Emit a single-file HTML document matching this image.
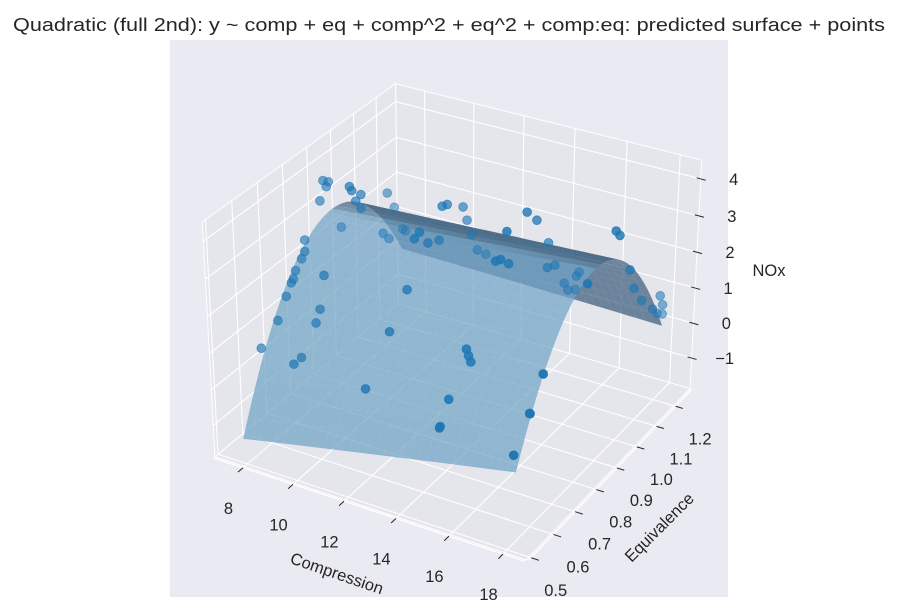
<!DOCTYPE html>
<html><head><meta charset="utf-8"><style>
html,body{margin:0;padding:0;background:#fff;}
svg{display:block;font-family:"Liberation Sans",Arial,sans-serif;}
</style></head><body>
<svg id="chart" width="898" height="616" viewBox="0 0 898 616" xmlns="http://www.w3.org/2000/svg">
<rect x="0" y="0" width="898" height="616" fill="#ffffff"/>
<rect x="170" y="40" width="558" height="557" fill="#eaeaf2"/>
<text x="449" y="31" text-anchor="middle" font-size="18" fill="#262626" textLength="872" lengthAdjust="spacingAndGlyphs">Quadratic (full 2nd): y ~ comp + eq + comp^2 + eq^2 + comp:eq: predicted surface + points</text>
<g id="panes"></g>
<g id="grid"></g>
<g id="axislines"></g>
<g id="surface"></g>
<g id="points"></g>
<g id="ticks"></g>
<text x="337" y="579" text-anchor="middle" font-size="16.5" fill="#262626" transform="rotate(19 337 573)">Compression</text>
<text x="659" y="533" text-anchor="middle" font-size="16.5" fill="#262626" transform="rotate(-45 659 527)">Equivalence</text>
<text x="769" y="276" text-anchor="middle" font-size="16.5" fill="#262626">NOx</text>
</svg>
<script>
// ---- data ----
const comp = [7.5,7.5,7.5,7.5,9,9,9,9,9,9,9,7.5,9,9,9,9,12,12,12,12,12,12,12,12,12,12,12,15,15,15,15,15,15,15,15,15,15,15,15,15,15,18,18,18,18,18,18,18,18,18,18,18,7.5,7.5,7.5,7.5,7.5,7.5,7.5,9,7.5,9,9,7.5,9,9,12,12,12,15,15,15,15,15,15,18,18,18,18];
const eq = [0.892,0.914,0.905,0.877,0.846,0.855,0.893,1.006,0.871,0.892,1.036,0.964,0.985,1.010,1.072,1.085,0.814,0.792,0.850,0.899,0.913,0.935,1.006,1.024,1.045,1.072,1.112,0.799,0.821,0.858,0.848,0.939,0.985,1.042,1.039,1.075,1.123,1.142,1.179,1.183,1.197,0.846,0.976,0.995,1.052,1.076,1.117,1.177,1.202,1.230,1.215,1.230,0.810,0.809,0.795,0.769,0.759,0.750,0.728,0.733,0.691,0.713,0.695,0.621,0.632,0.601,0.759,0.683,0.580,0.673,0.682,0.692,0.597,0.557,0.560,0.650,0.592,0.594,0.524];
const nox = [3.77,3.63,3.54,3.29,4.10,3.95,3.66,3.16,3.59,3.30,2.62,2.14,2.15,1.88,1.84,1.72,3.61,3.54,3.14,2.97,3.81,3.75,3.34,2.89,2.39,1.83,1.51,3.50,3.43,3.13,4.03,4.09,3.65,2.76,2.10,1.98,1.23,0.94,0.76,1.12,1.16,3.26,3.98,3.77,2.56,1.94,1.39,0.83,0.58,0.41,1.00,0.67,2.55,2.24,2.11,1.92,1.74,1.68,1.42,2.27,0.95,1.45,1.17,0.56,0.56,0.55,2.35,1.62,0.64,1.84,1.61,1.39,0.92,0.38,0.40,1.95,1.24,1.22,0.53];
// fitted coefficients: intercept, comp, eq, comp^2, eq^2, comp:eq
const coef = [-23.453, 0.2721, 54.069, -0.000432, -28.3, -0.2210];
const surfComp = [7.5, 18];
const surfEq = [0.535, 1.232];
const xTicks = [8,10,12,14,16,18];
const yTicks = [0.5,0.6,0.7,0.8,0.9,1.0,1.1,1.2];
const zTicks = [-1,0,1,2,3,4];
const xTickLabels = ["8","10","12","14","16","18"];
const yTickLabels = ["0.5","0.6","0.7","0.8","0.9","1.0","1.1","1.2"];
const zTickLabels = ["\u22121","0","1","2","3","4"];

// ---- axes / projection ----
const X0=6.8,X1=18.8,Y0=0.488,Y1=1.288,Z0=-1.89,Z1=4.5;
function proj(c,e,z){
  const qx=4*(c-X0)/(X1-X0)-2, qy=4*(e-Y0)/(Y1-Y0)-2, qz=3*(z-Z0)/(Z1-Z0)-1.5;
  const X=0.866025*qx+0.5*qy;
  const Y=-0.25*qx+0.433013*qy+0.866025*qz;
  const wq=0.433013*qx-0.75*qy+0.5*qz;
  const D=30-wq;
  return [457.4+2672*X/D, 309-2672*Y/D, D];
}
function model(c,e){return coef[0]+coef[1]*c+coef[2]*e+coef[3]*c*c+coef[4]*e*e+coef[5]*c*e;}
const NS="http://www.w3.org/2000/svg";
function mk(tag,attrs,parent){const el=document.createElementNS(NS,tag);for(const k in attrs)el.setAttribute(k,attrs[k]);parent.appendChild(el);return el;}
function pts(arr){return arr.map(p=>p[0].toFixed(2)+","+p[1].toFixed(2)).join(" ");}

// panes
const panes=document.getElementById('panes');
const paneDefs=[
  ['floor-pane',[[X0,Y0,Z0],[X1,Y0,Z0],[X1,Y1,Z0],[X0,Y1,Z0]]],
  ['back-pane',[[X0,Y1,Z0],[X1,Y1,Z0],[X1,Y1,Z1],[X0,Y1,Z1]]],
  ['left-pane',[[X0,Y0,Z0],[X0,Y1,Z0],[X0,Y1,Z1],[X0,Y0,Z1]]]
];
paneDefs.forEach(pd=>{
  const p=mk('polygon',{points:pts(pd[1].map(v=>proj(v[0],v[1],v[2]))),fill:'#e5e5ec',stroke:'#ffffff','stroke-width':'1'},panes);
  
  
});
// grid
const grid=document.getElementById('grid');
function gl(a,b,name){
  const p=proj(a[0],a[1],a[2]),q=proj(b[0],b[1],b[2]);
  const l=mk('line',{x1:p[0],y1:p[1],x2:q[0],y2:q[1],stroke:'#ffffff','stroke-width':'1.1'},grid);
  
  
}
xTicks.forEach(t=>{gl([t,Y0,Z0],[t,Y1,Z0],'x-gridline');gl([t,Y1,Z0],[t,Y1,Z1],'x-gridline');});
yTicks.forEach(t=>{gl([X0,t,Z0],[X1,t,Z0],'y-gridline');gl([X0,t,Z0],[X0,t,Z1],'y-gridline');});
zTicks.forEach(t=>{gl([X0,Y1,t],[X1,Y1,t],'z-gridline');gl([X0,Y0,t],[X0,Y1,t],'z-gridline');});
const axl=document.getElementById('axislines');
function al(a,b,name){
  const p=proj(a[0],a[1],a[2]),q=proj(b[0],b[1],b[2]);
  const l=mk('line',{x1:p[0],y1:p[1],x2:q[0],y2:q[1],stroke:'#ffffff','stroke-width':'1.3'},axl);
  
  
}
al([X0,Y0-0.006,Z0],[X1,Y0-0.006,Z0],'x-axis-line');
al([X1+0.08,Y0,Z0],[X1+0.08,Y1,Z0],'y-axis-line');

// surface
const surf=document.getElementById('surface');
const N=32;
const quads=[];
for(let i=0;i<N;i++)for(let j=0;j<N;j++){
  const c0=surfComp[0]+(surfComp[1]-surfComp[0])*i/N, c1=surfComp[0]+(surfComp[1]-surfComp[0])*(i+1)/N;
  const e0=surfEq[0]+(surfEq[1]-surfEq[0])*j/N, e1=surfEq[0]+(surfEq[1]-surfEq[0])*(j+1)/N;
  const v=[[c0,e0],[c1,e0],[c1,e1],[c0,e1]].map(a=>[a[0],a[1],model(a[0],a[1])]);
  const P=v.map(a=>proj(a[0],a[1],a[2]));
  const depth=(P[0][2]+P[1][2]+P[2][2]+P[3][2])/4;
  const d1=[v[2][0]-v[0][0],v[2][1]-v[0][1],v[2][2]-v[0][2]];
  const d2=[v[3][0]-v[1][0],v[3][1]-v[1][1],v[3][2]-v[1][2]];
  let n=[d1[1]*d2[2]-d1[2]*d2[1], d1[2]*d2[0]-d1[0]*d2[2], d1[0]*d2[1]-d1[1]*d2[0]];
  if(n[2]<0)n=n.map(x=>-x);
  const nl=Math.hypot(n[0],n[1],n[2]);
  const dot=(-0.6667*n[0]-0.6667*n[1]+0.3333*n[2])/nl;
  let t=((dot+1)/2-0.17)/0.66; t=Math.max(0,Math.min(1.05,t));
  const col=[58+52*t,92+69*t,122+73*t].map(x=>Math.round(Math.min(255,x)));
  quads.push({P,depth,col});
}
quads.sort((a,b)=>b.depth-a.depth);
quads.forEach(q=>{
  const p=mk('polygon',{points:pts(q.P),fill:'rgb('+q.col.join(',')+')','fill-opacity':'0.72'},surf);
  
  
});

// points
const pg=document.getElementById('points');
const proj3=comp.map((c,i)=>proj(c,eq[i],nox[i]));
const ds=proj3.map(p=>p[2]);
const dmin=Math.min(...ds),dmax=Math.max(...ds);
const order=proj3.map((p,i)=>i).sort((a,b)=>proj3[b][2]-proj3[a][2]);
order.forEach(i=>{
  const p=proj3[i];
  const a=1-0.55*(p[2]-dmin)/(dmax-dmin);
  const c=mk('circle',{cx:p[0].toFixed(2),cy:p[1].toFixed(2),r:'4.4',fill:'#1f77b4','fill-opacity':a.toFixed(3),stroke:'#1f77b4','stroke-opacity':a.toFixed(3),'stroke-width':'0.8'},pg);
  
  
});

// ticks
const tg=document.getElementById('ticks');
function tline(p,q,name){
  const l=mk('line',{x1:p[0],y1:p[1],x2:q[0],y2:q[1],stroke:'#262626','stroke-width':'1'},tg);
  
  
}
function tlabel(x,y,s,name){
  const t=mk('text',{x:x.toFixed(1),y:(y+6).toFixed(1),'text-anchor':'middle','font-size':'16.5',fill:'#262626'},tg);
  t.textContent=s;
  
  
}
xTicks.forEach((t,i)=>{
  const a=proj(t,Y0-0.006,Z0),b=proj(t,Y0-0.026,Z0);
  tline(a,b,'x-tick');
  tlabel(a[0]-14.5,a[1]+40,xTickLabels[i],'x-tick-label');
});
yTicks.forEach((t,i)=>{
  const a=proj(X1+0.08,t,Z0),b=proj(X1+0.36,t,Z0);
  tline(a,b,'y-tick');
  tlabel(a[0]+24.5,a[1]+32,yTickLabels[i],'y-tick-label');
});
zTicks.forEach((t,i)=>{
  const a=proj(X1,Y1,t);
  tline([a[0]-4,a[1]-1],[a[0]+5,a[1]+1.5],'z-tick');
  tlabel(a[0]+33,a[1],zTickLabels[i],'z-tick-label');
});
</script>
</body></html>
